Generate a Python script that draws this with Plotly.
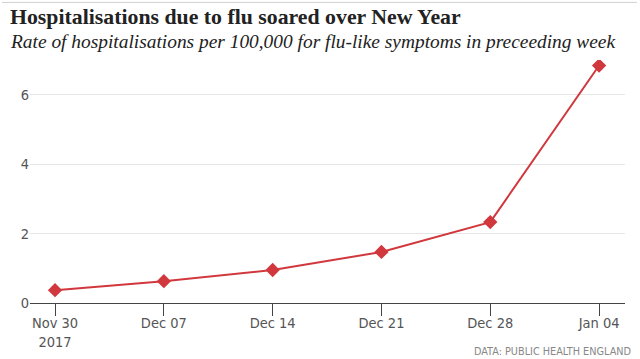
import plotly.graph_objects as go

dates = ["2017-11-30", "2017-12-07", "2017-12-14", "2017-12-21", "2017-12-28", "2018-01-04"]
rates = [0.37, 0.63, 0.95, 1.47, 2.33, 6.84]
tick_labels = ["Nov 30<br>2017", "Dec 07", "Dec 14", "Dec 21", "Dec 28", "Jan 04"]
y_ticks = [0, 2, 4, 6]

axis_font = dict(family="DejaVu Sans Condensed, Liberation Sans Narrow, Roboto, sans-serif", size=14.5, color="#555")

fig = go.Figure()
fig.add_trace(go.Scatter(
    x=dates, y=rates, mode="lines+markers",
    line=dict(color="#d1383d", width=2),
    marker=dict(symbol="diamond", size=11, color="#d1383d"),
    hoverinfo="x+y",
))

fig.update_layout(
    width=640, height=359,
    margin=dict(l=30, r=15, t=60, b=56, autoexpand=False),
    paper_bgcolor="white", plot_bgcolor="white",
    showlegend=False,
    xaxis=dict(
        type="date",
        range=["2017-11-28 09:20", "2018-01-05 16:00"],
        tickvals=dates, ticktext=tick_labels,
        ticks="outside", ticklen=12, tickcolor="#444", tickwidth=1,
        ticklabelstandoff=-5,
        showgrid=False, showline=False, zeroline=False,
        tickfont=axis_font, automargin=False,
    ),
    yaxis=dict(
        range=[0, 7], tickvals=y_ticks,
        showgrid=True, gridcolor="#e6e6e6", gridwidth=1,
        zeroline=True, zerolinecolor="#444", zerolinewidth=1,
        showline=False, ticks="", tickfont=axis_font, automargin=False,
    ),
    shapes=[
        dict(type="line", xref="paper", yref="paper", x0=-0.047, x1=1.02, y0=1.237, y1=1.237,
             line=dict(color="#d0d0d0", width=1)),
    ],
    annotations=[
        dict(text="<b>Hospitalisations due to flu soared over New Year</b>", xref="paper", yref="paper",
             x=-0.037, y=1.178, xanchor="left", yanchor="middle", showarrow=False,
             font=dict(family="Liberation Serif, DejaVu Serif, serif", size=21.8, color="#222")),
        dict(text="<i>Rate of hospitalisations per 100,000 for flu-like symptoms in preceeding week</i>",
             xref="paper", yref="paper", x=-0.037, y=1.077, xanchor="left", yanchor="middle",
             showarrow=False,
             font=dict(family="Liberation Serif, DejaVu Serif, serif", size=19.4, color="#222")),
        dict(text="DATA: PUBLIC HEALTH ENGLAND", xref="paper", yref="paper", x=1.013, y=-0.2,
             xanchor="right", yanchor="middle", showarrow=False,
             font=dict(family="DejaVu Sans Condensed, Liberation Sans Narrow, sans-serif", size=10.8, color="#888")),
    ],
)

fig.write_html("out.html", post_script="document.body.style.margin='0';",
               config={"displayModeBar": False})
